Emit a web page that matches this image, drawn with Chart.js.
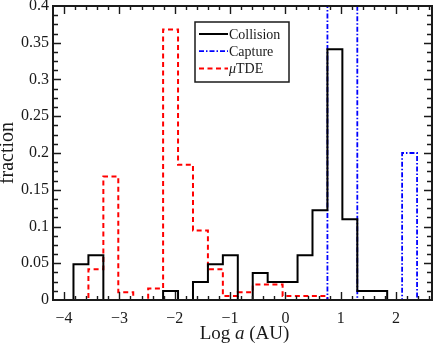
<!DOCTYPE html>
<html><head><meta charset="utf-8">
<script src="https://cdn.jsdelivr.net/npm/chart.js@4"></script>
<style>html,body{margin:0;padding:0;background:#fff}#wrap{width:436px;height:345px;position:relative}</style>
</head><body><div id="wrap"><canvas id="c"></canvas></div>
<script>
// ---- data ----
const binEdges = [-3.83, -3.56, -3.29, -3.02, -2.75, -2.48, -2.21, -1.94, -1.67, -1.40, -1.13, -0.86,
                  -0.59, -0.32, -0.05, 0.22, 0.49, 0.76, 1.03, 1.30, 1.57, 1.84, 2.11, 2.38];
const collision = [0.0488, 0.061, 0, 0, 0, 0, 0.0122, 0, 0.0244, 0.0488, 0.061, 0, 0.0366, 0.0244,
                   0.0244, 0.061, 0.122, 0.341, 0.11, 0.0122, 0.0122, 0, 0];
const capture   = [0, 0, 0, 0, 0, 0, 0, 0, 0, 0, 0, 0, 0, 0, 0, 0, 0, 0.4, 0.4, 0, 0, 0, 0.2];
const muTDE     = [0, 0.042, 0.168, 0.0105, 0, 0.0158, 0.368, 0.184, 0.0947, 0.042, 0.0053, 0.0105,
                   0.021, 0.021, 0.0053, 0.0053, 0.0053, 0, 0, 0, 0, 0, 0];
const seriesLabels = ['Collision', 'Capture', 'μTDE'];
const xTickValues = [-4, -3, -2, -1, 0, 1, 2];
const xTickLabels = ['−4', '−3', '−2', '−1', '0', '1', '2'];
const yTickValues = [0, 0.05, 0.1, 0.15, 0.2, 0.25, 0.3, 0.35, 0.4];
const yTickLabels = ['0', '0.05', '0.1', '0.15', '0.2', '0.25', '0.3', '0.35', '0.4'];
const xTitle = ['Log ', 'a', ' (AU)'];
const yTitle = 'fraction';

function stairs(vals) {
  const pts = [{x: binEdges[0], y: 0}];
  vals.forEach((v, i) => pts.push({x: binEdges[i], y: v}));
  pts.push({x: binEdges[vals.length], y: 0});
  return pts;
}

const SERIF = '"Liberation Serif", "DejaVu Serif", serif';

const framePlugin = {
  id: 'frame',
  afterDatasetsDraw(chart) {
    const {ctx, chartArea: a, scales: {x, y}} = chart;
    ctx.save();
    ctx.strokeStyle = '#1a1a1a';
    ctx.lineWidth = 1.4;
    ctx.beginPath();
    for (let k = -21; k <= 13; k++) {
      const v = k * 0.2;
      const px = Math.round(x.getPixelForValue(v)) + 0.5;
      if (px <= a.left + 1 || px >= a.right - 1) continue;
      const major = Math.abs(v - Math.round(v)) < 1e-6;
      const L = major ? 8 : 4;
      ctx.moveTo(px, a.bottom); ctx.lineTo(px, a.bottom - L);
      ctx.moveTo(px, a.top); ctx.lineTo(px, a.top + L);
    }
    for (let k = 0; k <= 32; k++) {
      const v = k * 0.0125;
      const py = Math.round(y.getPixelForValue(v)) + 0.5;
      if (py <= a.top + 1 || py >= a.bottom - 1) continue;
      const major = k % 4 === 0;
      const L = major ? 8 : 5;
      ctx.moveTo(a.left, py); ctx.lineTo(a.left + L, py);
      ctx.moveTo(a.right, py); ctx.lineTo(a.right - L, py);
    }
    ctx.stroke();
    ctx.lineWidth = 2;
    ctx.strokeRect(a.left, a.top, a.right - a.left, a.bottom - a.top);

    // axis titles
    ctx.fillStyle = '#1a1a1a';
    ctx.textBaseline = 'alphabetic';
    const fs = 19;
    const fN = fs + 'px ' + SERIF, fI = 'italic ' + fs + 'px ' + SERIF;
    ctx.font = fN; const w0 = ctx.measureText(xTitle[0]).width, w2 = ctx.measureText(xTitle[2]).width;
    ctx.font = fI; const w1 = ctx.measureText(xTitle[1]).width;
    let tx = (a.left + a.right) / 2 + 2 - (w0 + w1 + w2) / 2;
    const ty = 339;
    ctx.font = fN; ctx.fillText(xTitle[0], tx, ty); tx += w0;
    ctx.font = fI; ctx.fillText(xTitle[1], tx, ty); tx += w1;
    ctx.font = fN; ctx.fillText(xTitle[2], tx, ty);

    ctx.save();
    ctx.translate(8, (a.top + a.bottom) / 2);
    ctx.rotate(-Math.PI / 2);
    ctx.font = '20px ' + SERIF; ctx.textAlign = 'center'; ctx.textBaseline = 'middle';
    ctx.fillText(yTitle, 0, 0);
    ctx.restore();

    // legend
    const bx = a.left + 142, by = a.top + 16, bw = 94, bh = 60;
    ctx.fillStyle = '#fff';
    ctx.fillRect(bx, by, bw, bh);
    ctx.lineWidth = 1.5; ctx.strokeStyle = '#1a1a1a';
    ctx.strokeRect(bx, by, bw, bh);
    const lf = 14;
    chart.data.datasets.forEach((ds, i) => {
      const ly = by + 12 + i * 17.2;
      ctx.save();
      ctx.strokeStyle = ds.borderColor; ctx.lineWidth = ds.borderWidth;
      ctx.setLineDash(ds.borderDash || []);
      ctx.beginPath(); ctx.moveTo(bx + 4, ly); ctx.lineTo(bx + 33, ly); ctx.stroke();
      ctx.restore();
      ctx.fillStyle = '#1a1a1a'; ctx.textBaseline = 'middle'; ctx.textAlign = 'left';
      let lx = bx + 34;
      let text = ds.label;
      if (text.startsWith('μ')) {
        ctx.font = 'italic ' + lf + 'px ' + SERIF;
        ctx.fillText('μ', lx, ly + 1); lx += ctx.measureText('μ').width;
        text = text.slice(1);
      }
      ctx.font = lf + 'px ' + SERIF;
      ctx.fillText(text, lx, ly + 1);
    });
    ctx.restore();
  }
};

new Chart(document.getElementById('c'), {
  type: 'line',
  data: {
    datasets: [
      {label: seriesLabels[0], data: stairs(collision), borderColor: '#000000', borderWidth: 2,
       stepped: 'before', pointRadius: 0, fill: false},
      {label: seriesLabels[1], data: stairs(capture), borderColor: '#0000ff', borderWidth: 1.8,
       borderDash: [5, 2, 1.5, 2], stepped: 'before', pointRadius: 0, fill: false},
      {label: seriesLabels[2], data: stairs(muTDE), borderColor: '#ff0000', borderWidth: 2,
       borderDash: [5, 3.5], stepped: 'before', pointRadius: 0, fill: false}
    ]
  },
  options: {
    responsive: true, maintainAspectRatio: false, animation: false,
    layout: {padding: {top: 6, right: 4, left: 0, bottom: 0}},
    plugins: {legend: {display: false}, tooltip: {enabled: false}},
    elements: {line: {tension: 0}},
    scales: {
      x: {
        type: 'linear', min: -4.2, max: 2.65,
        grid: {display: false, drawTicks: false}, border: {display: false},
        afterBuildTicks: s => { s.ticks = xTickValues.map(v => ({value: v})); },
        afterFit: s => { s.height = 45; s.paddingLeft = 0; s.paddingRight = 0; },
        ticks: {padding: 9, color: '#1a1a1a', font: {family: SERIF, size: 16},
                callback: (v, i) => xTickLabels[i], maxRotation: 0}
      },
      y: {
        type: 'linear', min: 0, max: 0.4,
        grid: {display: false, drawTicks: false}, border: {display: false},
        afterBuildTicks: s => { s.ticks = yTickValues.map(v => ({value: v})); },
        afterFit: s => { s.width = 53; s.paddingTop = 0; s.paddingBottom = 0; },
        ticks: {padding: 4, color: '#1a1a1a', font: {family: SERIF, size: 16},
                callback: (v, i) => yTickLabels[i]}
      }
    }
  },
  plugins: [framePlugin]
});
</script>
</body></html>
